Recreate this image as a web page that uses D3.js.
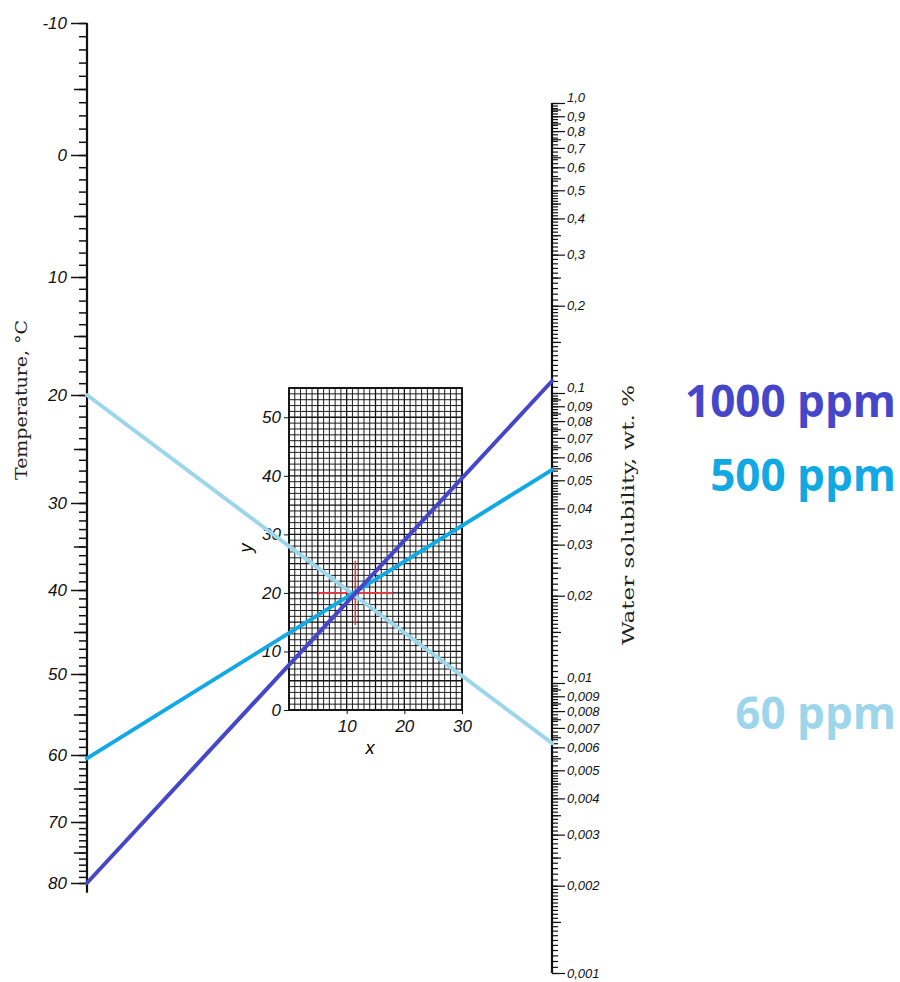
<!DOCTYPE html>
<html>
<head>
<meta charset="utf-8">
<title>Water solubility nomogram</title>
<script src="https://d3js.org/d3.v7.min.js"></script>
<style>
  body { margin: 0; background: #fff; }
  svg { display: block; }
  .axis text { font-family: "Liberation Sans", Arial, sans-serif; font-style: italic; fill: #111; }
  .axis line, .axis path { stroke: #111; }
  .axis-title { font-family: "DejaVu Serif", serif; fill: #222; }
  .legend { font-family: "Open Sans", sans-serif; font-weight: bold; }
</style>
</head>
<body>
<svg id="chart" width="900" height="982"></svg>
<script>
// Lines drawn on the nomogram: temperature end, solubility end (wt. %)
const series = ["1000 ppm", "500 ppm", "60 ppm"];
const seriesTemp = [80, 60.5, 20];
const seriesSol = [0.11, 0.0543, 0.0062];
const seriesColor = ["#4646c8", "#12a9e3", "#9dd6ea"];

// Tick labels
const tempTicks = [-10, 0, 10, 20, 30, 40, 50, 60, 70, 80];
const solTicks = [1, 0.9, 0.8, 0.7, 0.6, 0.5, 0.4, 0.3, 0.2,
                  0.1, 0.09, 0.08, 0.07, 0.06, 0.05, 0.04, 0.03, 0.02,
                  0.01, 0.009, 0.008, 0.007, 0.006, 0.005, 0.004, 0.003, 0.002, 0.001];
const gridXTicks = [10, 20, 30];
const gridYTicks = [0, 10, 20, 30, 40, 50];
const pivot = { x: 11.5, y: 20 };

const svg = d3.select("#chart");

// Temperature axis is not linear, calibrated per 10 degrees
const tScale = d3.scaleLinear()
  .domain(tempTicks)
  .range([23, 155, 277, 395, 503, 590, 674, 755, 822, 883]);
const leftX = 87;

const sScale = d3.scaleLog().domain([0.001, 1]).range([973, 103]);
const rightX = 552;

// grid box
const gx = d3.scaleLinear().domain([0, 30]).range([289, 462]);
const gy = d3.scaleLinear().domain([0, 55]).range([710, 388]);

// ---- left axis ----
const left = svg.append("g").attr("class", "axis").attr("transform", `translate(${leftX},0)`);
left.append("g")
  .call(d3.axisLeft(tScale).tickValues(d3.range(-10, 81)).tickSize(8).tickSizeOuter(0).tickFormat(""))
  .call(g => g.select(".domain").remove());
left.append("g")
  .call(d3.axisLeft(tScale).tickValues(d3.range(-5, 80, 10)).tickSize(13).tickSizeOuter(0).tickFormat(""))
  .call(g => g.select(".domain").remove());
left.append("g")
  .call(d3.axisLeft(tScale).tickValues(tempTicks).tickSize(16).tickPadding(4).tickSizeOuter(0).tickFormat(d => d))
  .call(g => g.select(".domain").remove())
  .call(g => g.selectAll("text").attr("font-size", 17).attr("font-family", null));
left.selectAll("line").attr("stroke-width", 1.5);
left.append("line")
  .attr("y1", tScale(-10)).attr("y2", tScale(81.6))
  .attr("stroke", "#111").attr("stroke-width", 2.2);

// ---- right axis (log) ----
function minorSol() {
  const out = [];
  [0.001, 0.01, 0.1].forEach(b => {
    d3.range(1, 2, 0.05).forEach(m => out.push(+(m * b).toPrecision(4)));
    d3.range(2, 5, 0.1).forEach(m => out.push(+(m * b).toPrecision(4)));
    d3.range(5, 10, 0.2).forEach(m => out.push(+(m * b).toPrecision(4)));
  });
  out.push(1);
  return out;
}
function halfSol() {
  const out = [];
  [0.001, 0.01, 0.1].forEach(b => {
    d3.range(1.5, 10, 1).forEach(m => out.push(+(m * b).toPrecision(4)));
  });
  return out;
}
const fmtSol = d => d === 1 ? "1,0" : String(d).replace(".", ",");
// decade labels sit a little above their tick, as in the drawing
const solDy = d => [1, 0.1, 0.01].includes(d) ? "-0.1em" : "0.32em";

const right = svg.append("g").attr("class", "axis").attr("transform", `translate(${rightX},0)`);
right.append("g")
  .call(d3.axisRight(sScale).tickValues(minorSol()).tickSize(6).tickSizeOuter(0).tickFormat(""))
  .call(g => g.select(".domain").remove());
right.append("g")
  .call(d3.axisRight(sScale).tickValues(halfSol()).tickSize(9).tickSizeOuter(0).tickFormat(""))
  .call(g => g.select(".domain").remove());
right.append("g")
  .call(d3.axisRight(sScale).tickValues(solTicks).tickSize(13).tickPadding(2).tickSizeOuter(0).tickFormat(fmtSol))
  .call(g => g.select(".domain").remove())
  .call(g => g.selectAll("text").attr("font-size", 13).attr("font-family", null).attr("dy", solDy));
right.selectAll("line").attr("stroke-width", 1.2);
right.append("line")
  .attr("y1", sScale(1)).attr("y2", sScale(0.001))
  .attr("stroke", "#111").attr("stroke-width", 2.2);

// ---- central grid ----
const grid = svg.append("g");
grid.selectAll("line.gv").data(d3.range(0, 31)).join("line")
  .attr("x1", d => gx(d)).attr("x2", d => gx(d))
  .attr("y1", gy(0)).attr("y2", gy(55))
  .attr("stroke", "#111").attr("stroke-width", d => d % 5 === 0 ? 1.3 : 0.95);
grid.selectAll("line.gh").data(d3.range(0, 56)).join("line")
  .attr("y1", d => gy(d)).attr("y2", d => gy(d))
  .attr("x1", gx(0)).attr("x2", gx(30))
  .attr("stroke", "#111").attr("stroke-width", d => d % 5 === 0 ? 1.3 : 0.95);
grid.append("rect")
  .attr("x", gx(0)).attr("y", gy(55))
  .attr("width", gx(30) - gx(0)).attr("height", gy(0) - gy(55))
  .attr("fill", "none").attr("stroke", "#111").attr("stroke-width", 1.8);

svg.append("g").attr("class", "axis").attr("transform", `translate(${gx(0)},0)`)
  .call(d3.axisLeft(gy).tickValues(gridYTicks).tickSize(5).tickPadding(3).tickSizeOuter(0).tickFormat(d => d))
  .call(g => g.select(".domain").remove())
  .call(g => g.selectAll("text").attr("font-size", 17).attr("font-family", null));
svg.append("g").attr("class", "axis").attr("transform", `translate(0,${gy(0)})`)
  .call(d3.axisBottom(gx).tickValues(gridXTicks).tickSize(4).tickPadding(6).tickSizeOuter(0).tickFormat(d => d))
  .call(g => g.select(".domain").remove())
  .call(g => g.selectAll("text").attr("font-size", 17).attr("font-family", null));

svg.append("text")
  .attr("transform", `translate(252,548) rotate(-90)`)
  .attr("text-anchor", "middle").attr("font-style", "italic")
  .attr("font-family", "Liberation Sans, sans-serif").attr("font-size", 18).text("y");
svg.append("text")
  .attr("x", 370).attr("y", 754)
  .attr("text-anchor", "middle").attr("font-style", "italic")
  .attr("font-family", "Liberation Sans, sans-serif").attr("font-size", 18).text("x");

// red crosshair at the pivot
svg.append("line")
  .attr("x1", gx(pivot.x - 6.5)).attr("x2", gx(pivot.x + 6.5))
  .attr("y1", gy(pivot.y)).attr("y2", gy(pivot.y))
  .attr("stroke", "#e8383d").attr("stroke-width", 1.6);
svg.append("line")
  .attr("x1", gx(pivot.x)).attr("x2", gx(pivot.x))
  .attr("y1", gy(pivot.y - 5.5)).attr("y2", gy(pivot.y + 5.5))
  .attr("stroke", "#e8383d").attr("stroke-width", 1.6);

// ---- axis titles ----
svg.append("text").attr("class", "axis-title")
  .attr("transform", "translate(27,400) rotate(-90)")
  .attr("text-anchor", "middle").attr("font-size", 17)
  .attr("textLength", 160).attr("lengthAdjust", "spacingAndGlyphs")
  .text("Temperature, °C");
svg.append("text").attr("class", "axis-title")
  .attr("transform", "translate(634,515) rotate(-90)")
  .attr("text-anchor", "middle").attr("font-size", 17)
  .attr("textLength", 260).attr("lengthAdjust", "spacingAndGlyphs")
  .text("Water solubility, wt. %");

// ---- nomogram lines ----
const lineOrder = [2, 1, 0];
svg.selectAll("line.series").data(lineOrder).join("line")
  .attr("class", "series")
  .attr("x1", leftX).attr("y1", i => tScale(seriesTemp[i]))
  .attr("x2", rightX).attr("y2", i => sScale(seriesSol[i]))
  .attr("stroke", i => seriesColor[i])
  .attr("stroke-width", 4)
  .attr("stroke-linecap", "round");

// ---- labels ----
const legendY = [417, 491, 729];
svg.selectAll("text.legend").data(series).join("text")
  .attr("class", "legend")
  .attr("x", 896).attr("y", (d, i) => legendY[i])
  .attr("text-anchor", "end")
  .attr("font-size", 44)
  .attr("fill", (d, i) => seriesColor[i])
  .text(d => d);
</script>
</body>
</html>
